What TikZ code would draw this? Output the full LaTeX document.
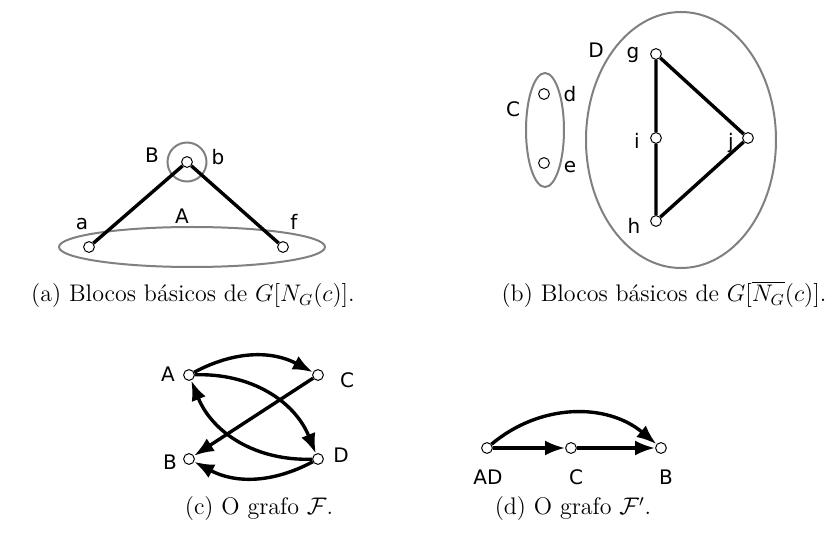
\documentclass[tikz,border=0pt]{standalone}
\usepackage{fontspec}
\usepackage{amsmath, amssymb}
\newfontfamily\lblfont{DejaVu Sans}
\usetikzlibrary{arrows.meta, calc}
\tikzset{
  vtx/.style={circle, draw=black, fill=white, line width=0.5pt,
    inner sep=0pt, minimum size=5.4pt},
  lbl/.style={font=\lblfont\fontsize{10}{12}\selectfont, inner sep=0pt},
  blob/.style={draw=black!50, line width=1pt},
  edge/.style={line width=1.7pt},
  arc/.style={line width=1.7pt, -{Latex[length=10pt, width=7.5pt]}},
  capt/.style={font=\fontsize{12}{14}\selectfont, anchor=base}
}

\begin{document}
\begin{tikzpicture}[x=0.5pt, y=-0.5pt]
  \useasboundingbox (0,0) rectangle (827,535);

  % ── (a) Blocos de G[N_G(c)] ───────────────────────────────────────
  \draw[blob] (192,247) ellipse [x radius=133, y radius=20];
  \draw[blob] (187,162) circle [radius=19.5];

  \foreach \p/\x/\y in {va/89/247, vb/187/162, vf/283/247}
    { \node[vtx] (\p) at (\x,\y) {}; }
  \foreach \p/\lbl/\x/\y in {la/a/82/224, lb/b/218/157, lf/f/294/222,
                             lA/A/182/216, lB/B/152/155}
    { \node[lbl] (\p) at (\x,\y) {\lbl}; }

  \draw[edge] (va) -- (vb) -- (vf);

  \node[capt] (capa) at (193,302) {(a) Blocos básicos de $G[N_G(c)]$.};

  % ── (b) Blocos de G[N_G(c) barra] ─────────────────────────────────
  \draw[blob] (545,130) ellipse [x radius=19, y radius=57];
  \draw[blob] (681,140) ellipse [x radius=95, y radius=128];

  \foreach \p/\x/\y in {vd/544/94, ve/544/163, vg/656/54,
                        vi/656/138, vh/656/221, vj/748/138}
    { \node[vtx] (\p) at (\x,\y) {}; }
  \foreach \p/\lbl/\x/\y in {lC/C/513/109, ld/d/570/94, le/e/570/167,
                             lD/D/596/50, lg/g/633/55, li/i/637/141,
                             lj/j/731/143, lh/h/634/226}
    { \node[lbl] (\p) at (\x,\y) {\lbl}; }

  \draw[edge] (vg) -- (vi) -- (vh) -- (vj) -- (vg);

  \node[capt] (capb) at (664,302)
    {(b) Blocos básicos de $G[\overline{N_G}(c)]$.};

  % ── (c) grafo F ───────────────────────────────────────────────────
  \foreach \p/\x/\y in {cA/189/375, cC/318/375, cB/189/459, cD/318/459}
    { \node[vtx] (\p) at (\x,\y) {}; }
  \foreach \p/\lbl/\x/\y in {lcA/A/168/374, lcC/C/347/380,
                             lcB/B/170/462, lcD/D/341/455}
    { \node[lbl] (\p) at (\x,\y) {\lbl}; }

  \draw[arc] (cA) to[bend left=28] (cC);
  \draw[arc] (cA) to[bend left=35] (cD);
  \draw[arc] (cC) -- (cB);
  \draw[arc] (cD) to[bend left=35] (cA);
  \draw[arc] (cD) to[bend left=28] (cB);

  \node[capt] (capc) at (259,515) {(c) O grafo $\mathcal{F}$.};

  % ── (d) grafo F' ──────────────────────────────────────────────────
  \foreach \p/\x/\y in {dAD/487/448, dC/571/448, dB/661/448}
    { \node[vtx] (\p) at (\x,\y) {}; }
  \foreach \p/\lbl/\x/\y in {ldAD/AD/488/477, ldC/C/576/477, ldB/B/666/477}
    { \node[lbl] (\p) at (\x,\y) {\lbl}; }

  \draw[arc] (dAD) -- (dC);
  \draw[arc] (dC) -- (dB);
  \draw[arc] (dAD) to[bend left=40] (dB);

  \node[capt] (capd) at (573,515) {(d) O grafo $\mathcal{F}'$.};
\end{tikzpicture}
\end{document}
